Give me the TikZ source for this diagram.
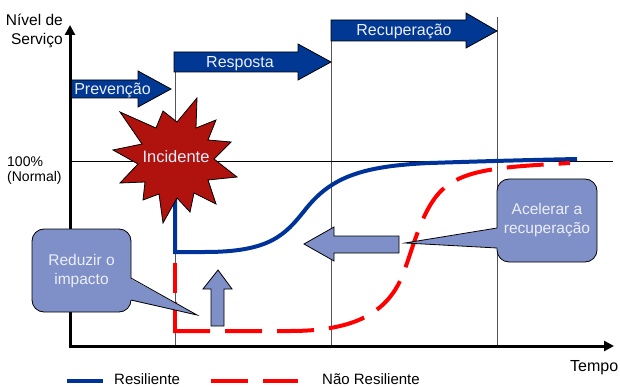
\documentclass[tikz,border=0pt]{standalone}
\usepackage{fontspec}
\setmainfont{Liberation Sans}
\usetikzlibrary{arrows.meta}
\definecolor{darkblue}{RGB}{0,56,147}
\definecolor{curveblue}{RGB}{0,51,153}
\definecolor{starred}{RGB}{176,18,14}
\definecolor{calloutfill}{RGB}{127,143,199}
\definecolor{lighttext}{RGB}{236,238,248}
\definecolor{gridgray}{RGB}{85,85,85}
\begin{document}
\begin{tikzpicture}[x=1pt,y=-1pt,
  phasearrow/.style={fill=darkblue,draw=black,line width=0.8pt},
  phaselabel/.style={text=lighttext,font=\fontsize{16}{19}\selectfont,inner sep=0pt,anchor=base},
  gridline/.style={draw=gridgray,line width=1pt},
  axisline/.style={line width=3pt,-{Triangle[length=10pt,width=10pt]}},
  resil/.style={draw=curveblue,line width=4pt},
  naoresil/.style={draw=red,line width=4pt,dash pattern=on 37pt off 15pt},
  calloutbox/.style={fill=calloutfill,draw=black,line width=0.8pt,rounded corners=12pt,
    text=lighttext,font=\fontsize{15.5}{19}\selectfont,align=center,inner sep=0pt},
  blockarrow/.style={fill=calloutfill,draw=black,line width=0.8pt},
  plainlabel/.style={font=\fontsize{15.5}{19}\selectfont,inner sep=0pt}
]
\useasboundingbox (0,0) rectangle (620,387);

% grid lines
\coordinate (g1t) at (175,52);  \coordinate (g1b) at (175,346);
\coordinate (g2t) at (331,20);  \coordinate (g2b) at (331,346);
\coordinate (g3t) at (497,17);  \coordinate (g3b) at (497,346);
\draw[gridline] (g1t) -- (g1b);
\draw[gridline] (g2t) -- (g2b);
\draw[gridline] (g3t) -- (g3b);

% 100% line
\coordinate (n0) at (70,161); \coordinate (n1) at (613,161);
\draw[line width=0.8pt] (n0) -- (n1);

% phase arrows
\draw[phasearrow] (70,80) -- (138,80) -- (138,71) -- (171,89) -- (138,107) -- (138,98) -- (70,98) -- cycle;
\node[phaselabel] (prev) at (112.5,94.5) {Prevenção};
\draw[phasearrow] (174,52) -- (298,52) -- (298,44) -- (331,62) -- (298,80) -- (298,72) -- (174,72) -- cycle;
\node[phaselabel] (resp) at (240,67.5) {Resposta};
\draw[phasearrow] (331,20) -- (466,20) -- (466,13) -- (497,31) -- (466,48) -- (466,41) -- (331,41) -- cycle;
\node[phaselabel] (recup) at (404,35.5) {Recuperação};

% axes
\coordinate (oy) at (70,347.5); \coordinate (ytip) at (70,25);
\coordinate (ox) at (68.5,346); \coordinate (xtip) at (614,346);
\draw[axisline] (oy) -- (ytip);
\draw[axisline] (ox) -- (xtip);

% axis labels
\node[plainlabel,anchor=base east] (nivel1) at (63,26) {Nível de};
\node[plainlabel,anchor=base east] (nivel2) at (63,45) {Serviço};
\node[font=\fontsize{14}{17}\selectfont,inner sep=0pt,anchor=base west] (cem) at (7,167) {100\%};
\node[font=\fontsize{14}{17}\selectfont,inner sep=0pt,anchor=base west] (normal) at (7,182) {(Normal)};
\node[font=\fontsize{16}{19}\selectfont,inner sep=0pt,anchor=base west] (tempo) at (570,371) {Tempo};

% curves
\draw[resil] (175,195) -- (175,252) -- (205,252) .. controls (270,252) and (285,235) .. (305,210)
  .. controls (330,178) and (360,166) .. (430,163) .. controls (490,161) and (530,160) .. (577,159);
\draw[draw=red,line width=4pt,dash pattern=on 30pt off 9pt] (175,263) -- (175,331);
\draw[naoresil] (173,331) -- (290,331) .. controls (345,331) and (380,318) .. (398,285)
  .. controls (410,263) and (418,215) .. (440,192) .. controls (462,169) and (500,167) .. (570,163);

% star
\filldraw[fill=starred,draw=black,line width=0.8pt] (120,112) -- (156,128) -- (163,111) -- (177,122)
  -- (197,98) -- (196,128) -- (216,120) -- (208,140) -- (231,142) -- (214,159) -- (237,177)
  -- (208,180) -- (216,204) -- (194,193) -- (190,212) -- (177,198) -- (163,223) -- (159,194)
  -- (143,200) -- (145,182) -- (120,183) -- (138,164) -- (113,150) -- (142,144) -- cycle;
\node[text=lighttext,font=\fontsize{16.5}{19}\selectfont,inner sep=0pt,anchor=base] (incid) at (176,163) {Incidente};

% light block arrows
\draw[blockarrow] (211,326) -- (211,289) -- (203,289) -- (218,270) -- (232,289) -- (224,289) -- (224,326) -- cycle;
\draw[blockarrow] (399,236) -- (334,236) -- (334,227) -- (304,244) -- (334,261) -- (334,253) -- (399,253) -- cycle;

% callouts
\node[calloutbox,minimum width=99pt,minimum height=83pt] (reduz) at (81.5,270.5) {Reduzir o\\impacto};
\coordinate (rtip) at (197,315);
\fill[calloutfill] (129.5,278) -- (rtip) -- (129.5,300) -- cycle;
\draw[line width=0.8pt] (131,278) -- (rtip) -- (131,300);

\node[calloutbox,minimum width=100pt,minimum height=83pt] (acel) at (547,220.5) {Acelerar a\\recuperação};
\coordinate (atip) at (405,243);
\fill[calloutfill] (498.5,228) -- (atip) -- (498.5,248) -- cycle;
\draw[line width=0.8pt] (497,228) -- (atip) -- (497,248);

% legend
\coordinate (lb0) at (67,381); \coordinate (lb1) at (103,381);
\draw[resil] (lb0) -- (lb1);
\node[font=\fontsize{15}{18}\selectfont,inner sep=0pt,anchor=base west] (legres) at (114,384.5) {Resiliente};
\coordinate (lr0) at (211,381); \coordinate (lr1) at (298,381);
\draw[naoresil] (lr0) -- (lr1);
\node[font=\fontsize{15}{18}\selectfont,inner sep=0pt,anchor=base west] (legnres) at (322,384.5) {Não Resiliente};
\end{tikzpicture}
\end{document}
